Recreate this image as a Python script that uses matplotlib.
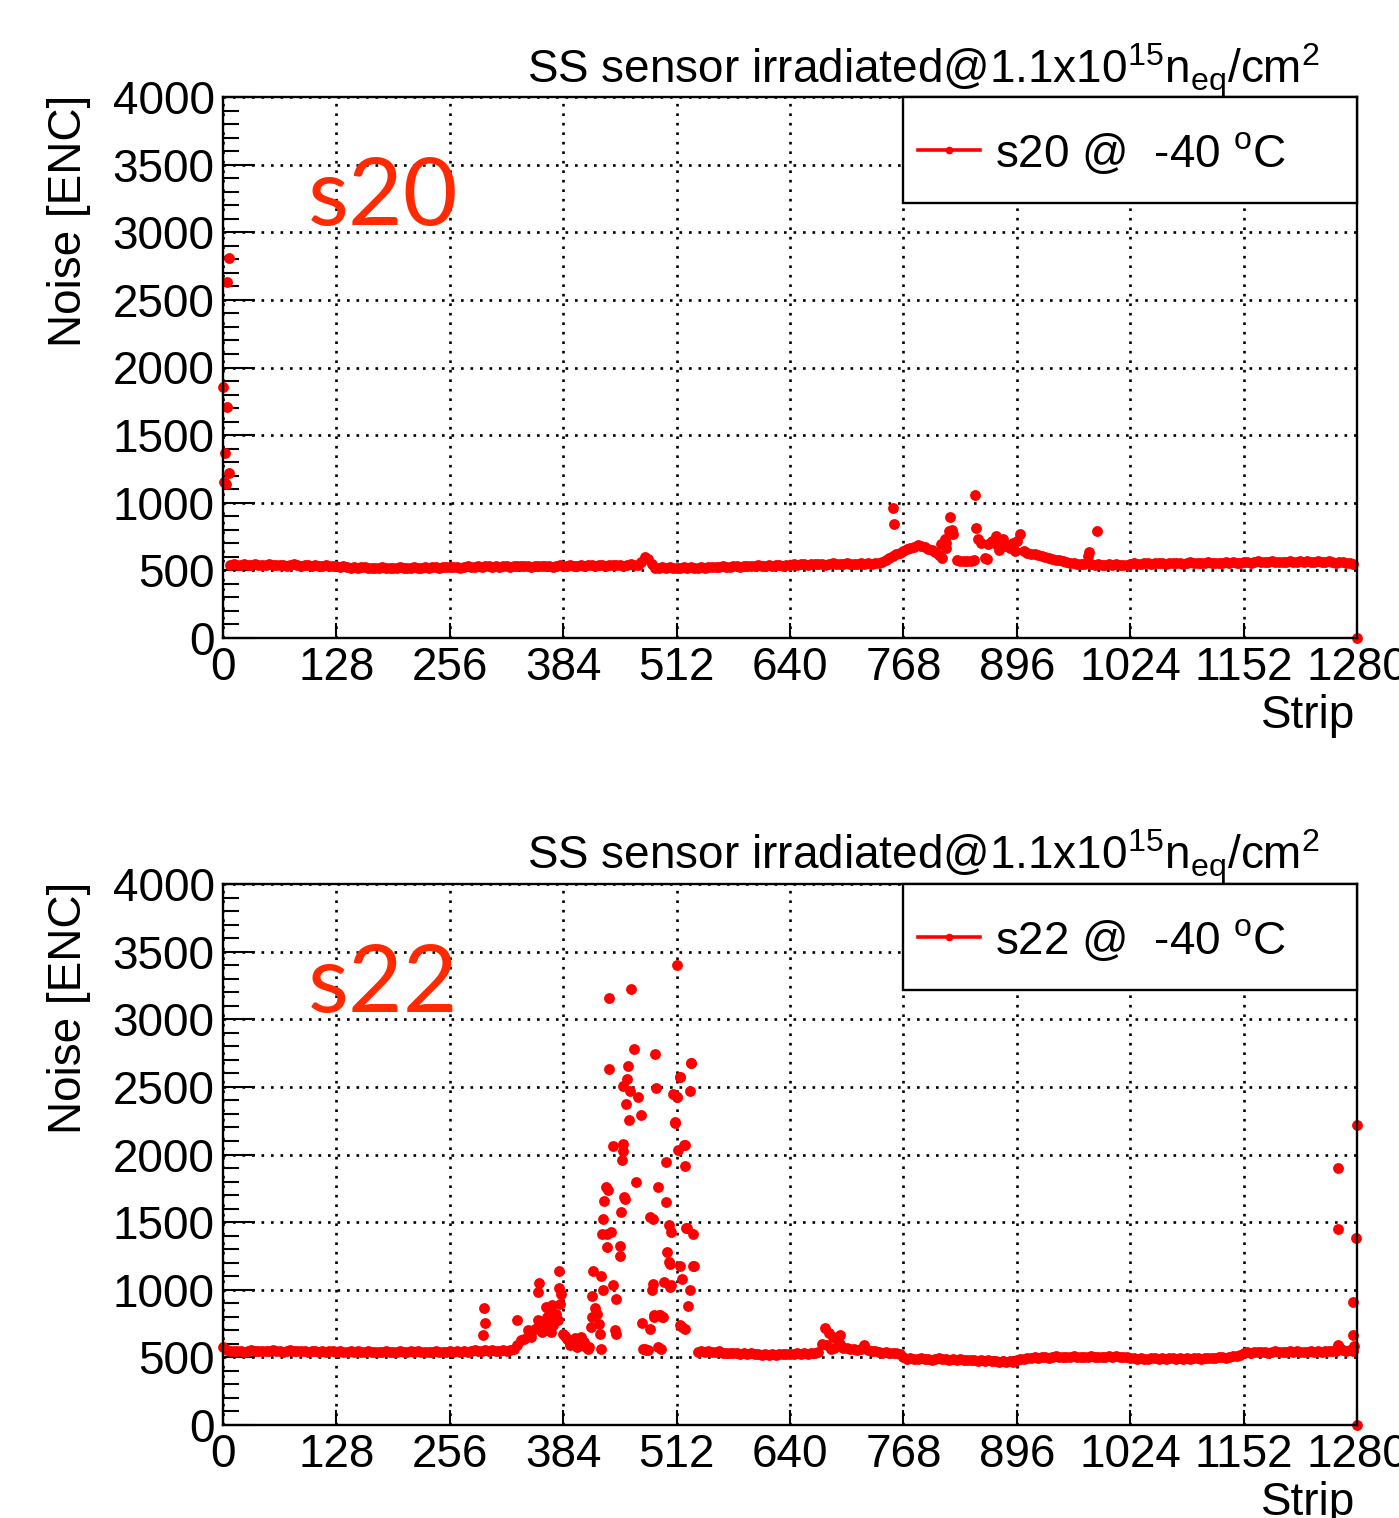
import numpy as np
import matplotlib
matplotlib.use("Agg")
import matplotlib.pyplot as plt
from matplotlib.patches import Rectangle
from matplotlib.lines import Line2D

plt.rcParams['font.family'] = ['Liberation Sans', 'DejaVu Sans']
plt.rcParams['mathtext.fontset'] = 'custom'
plt.rcParams['mathtext.rm'] = 'Liberation Sans'
plt.rcParams['mathtext.it'] = 'Liberation Sans:italic'
plt.rcParams['mathtext.bf'] = 'Liberation Sans:bold'

# ---------------- data ----------------
nan = np.nan
strip_step = 4
xticks = [0, 128, 256, 384, 512, 640, 768, 896, 1024, 1152, 1280]
yticks = [0, 500, 1000, 1500, 2000, 2500, 3000, 3500, 4000]

# s20: noise every 4 strips (strips 0..1276)
s20_base = [
    nan, nan, 541, 545, 539, 543, 547, 540, 538, 544, 541, 537, 543, 546, 540, 538,
    542, 539, 536, 541, 544, 538, 535, 540, 537, 534, 539, 536, 533, 537, 534, 531,
    529, 526, 530, 524, 521, 525, 519, 522, 526, 518, 521, 516, 520, 524, 517, 521,
    515, 519, 523, 517, 520, 518, 522, 516, 521, 524, 519, 522, 526, 520, 524, 527,
    523, 528, 525, 521, 527, 530, 524, 528, 532, 526, 529, 533, 527, 531, 528, 534,
    530, 526, 532, 535, 529, 533, 530, 527, 533, 536, 530, 534, 531, 528, 534, 537,
    531, 535, 538, 532, 536, 540, 534, 537, 541, 535, 539, 542, 536, 540, 537, 543,
    539, 535, 541, 544, 538, 542, 560, 598, 585, 548, 516, 520, 524, 518, 522, 519,
    521, 517, 523, 519, 525, 521, 518, 524, 520, 526, 522, 528, 524, 530, 526, 523,
    529, 532, 527, 531, 535, 529, 533, 537, 531, 535, 538, 533, 537, 540, 535, 539,
    542, 546, 541, 548, 544, 540, 547, 550, 545, 549, 543, 547, 551, 545, 549, 546,
    552, 548, 544, 550, 553, 547, 551, 548, 554, 556, 560, 575, 590, 605, 618, 630,
    645, 655, 665, 675, 685, 680, 670, 660, 650, 635, 615, 595, 700, 790, 770, 575,
    568, 572, 566, 570, 580, 730, 706, 595, 694, 719, 756, 650, 731, 690, 669, 706,
    719, 769, 640, 625, 619, 622, 615, 608, 600, 590, 584, 580, 578, 572, 565, 558,
    552, 548, 545, 549, 606, 545, 541, 546, 543, 539, 544, 540, 546, 542, 538, 543,
    548, 553, 550, 546, 552, 556, 549, 553, 557, 551, 548, 554, 558, 552, 556, 550,
    554, 559, 553, 557, 551, 555, 560, 554, 558, 552, 556, 561, 555, 559, 553, 557,
    560, 564, 558, 562, 566, 560, 564, 561, 567, 563, 559, 565, 562, 568, 564, 560,
    566, 562, 569, 565, 561, 567, 563, 560, 566, 562, 558, 564, 560, 556, 553, 550,
]
s20_extra_strip = [7, 5, 0, 4, 2, 7, 1, 3, 756, 757, 849, 821, 816, 811, 815, 823,
                   850, 862, 894, 883, 873, 978, 986, 1280]
s20_extra_noise = [2807, 2630, 1853, 1711, 1365, 1218, 1156, 1139, 960, 843, 1060, 898, 669, 694, 731, 798,
                   813, 582, 644, 682, 694, 637, 789, 0]

# s22: noise every 4 strips (strips 0..1276)
s22_base = [
    576, 552, 548, 545, 550, 546, 543, 549, 552, 547, 544, 550, 546, 548, 552, 545,
    549, 543, 547, 551, 546, 544, 549, 545, 542, 548, 544, 541, 546, 543, 547, 544,
    541, 545, 538, 543, 547, 540, 544, 538, 542, 546, 539, 543, 537, 541, 545, 539,
    543, 540, 544, 538, 542, 546, 540, 544, 539, 543, 537, 541, 545, 539, 542, 540,
    544, 540, 546, 542, 548, 543, 547, 551, 545, 549, 553, 548, 552, 546, 550, 555,
    549, 553, 560, 589, 626, 638, 699, 650, 710, 778, 687, 699, 852, 736, 822, 896,
    675, 638, 589, 626, 576, 650, 601, 564, 798, 867, 749, 1413, 1762, 3160, 2065, 933,
    1327, 2077, 2557, 3221, 2779, 2422, 2294, 564, 552, 995, 2742, 817, 798, 1647, 1192, 2446,
    2422, 2574, 2070, 1455, 2680, 1172, 539, 545, 541, 547, 543, 538, 544, 536, 531, 535,
    529, 533, 527, 531, 525, 529, 523, 527, 521, 525, 519, 523, 520, 526, 522, 527,
    528, 524, 530, 526, 532, 527, 531, 535, 540, 600, 715, 678, 653, 641, 665, 572,
    566, 560, 565, 556, 560, 592, 552, 548, 544, 540, 536, 540, 533, 530, 534, 528,
    500, 488, 492, 485, 490, 494, 487, 491, 484, 489, 493, 486, 490, 483, 487, 481,
    485, 479, 483, 477, 481, 475, 479, 473, 477, 471, 475, 469, 473, 467, 471, 468,
    480, 486, 490, 494, 498, 502, 497, 501, 505, 499, 503, 507, 501, 505, 500, 504,
    508, 502, 506, 500, 504, 508, 502, 506, 501, 505, 509, 503, 507, 501, 505, 500,
    498, 494, 490, 495, 491, 487, 492, 496, 490, 494, 489, 493, 497, 491, 495, 489,
    493, 488, 492, 496, 490, 494, 498, 492, 496, 500, 504, 499, 503, 507, 511, 515,
    535, 540, 536, 541, 537, 543, 539, 535, 541, 545, 539, 543, 538, 544, 540, 546,
    541, 537, 543, 547, 541, 545, 540, 546, 550, 544, 548, 575, 553, 547, 558, 545,
]
s22_extra_strip = [295, 296, 294, 332, 357, 356, 379, 379, 381, 365, 371, 366, 375, 346, 354, 362, 370, 378,
                   386, 390, 397, 403, 407, 410, 413, 418, 427, 429, 417, 422, 415, 425, 427,
                   435, 430, 429, 433, 438, 433, 436, 440, 442, 444,
                   448, 449, 451, 450, 451, 455, 457, 459, 458, 453, 454, 466,
                   474, 478, 473, 482, 486, 487, 493, 497, 491, 494, 485, 482, 485, 489, 491, 500,
                   503, 506, 501, 503, 498, 505, 506,
                   510, 510, 512, 516, 514, 521, 521, 512, 528, 527, 523, 531, 516, 531, 518, 527,
                   525, 516, 518, 522,
                   682, 686, 690, 697,
                   1259, 1258, 1279.5, 1278.5, 1275, 1276, 1277, 1259, 1280]
s22_extra_noise = [867, 756, 667, 773, 1049, 982, 1135, 1012, 970, 872, 884, 798, 798, 660, 720, 760, 690, 780,
                   660, 620, 640, 590, 610, 580, 580, 1135, 1105, 995, 955, 822, 724, 675, 564,
                   1738, 1654, 1524, 1413, 1425, 1314, 2631, 1032, 699, 675,
                   1253, 1573, 2028, 1959, 2508, 2373, 2656, 2471, 2254, 1684, 1671, 1794,
                   564, 552, 754, 712, 798, 810, 817, 798, 576, 564, 1044, 1536, 1524, 2488, 1757, 1942,
                   1482, 1425, 1278, 1204, 1056, 1024, 1032,
                   2242, 2230, 2422, 2574, 2033, 2070, 1912, 3401, 2680, 2466, 1455, 1413, 1172, 1172, 1081, 995,
                   877, 736, 724, 712,
                   592, 560, 570, 600,
                   1898, 1449, 2218, 1380, 907, 665, 587, 590, 0]

panels = [
    dict(name="s20", base=s20_base, xs=s20_extra_strip, ys=s20_extra_noise,
         legend="s20 @  -40 $^{\\mathrm{o}}$C"),
    dict(name="s22", base=s22_base, xs=s22_extra_strip, ys=s22_extra_noise,
         legend="s22 @  -40 $^{\\mathrm{o}}$C"),
]
title = "SS sensor irradiated@1.1x10$^{15}$n$_{\\mathrm{eq}}$/cm$^{2}$"

# ---------------- figure ----------------
W, H = 1399, 1518
fig = plt.figure(figsize=(W / 100, H / 100), dpi=100)

def fx(px):
    return px / W

def fy(py):
    return 1 - py / H

red = '#ff0000'
fs = 33
ms = 7.8
offsets = [0, 787]

for p, off in zip(panels, offsets):
    top, bot = 97 + off, 638 + off
    ax = fig.add_axes([fx(223), fy(bot), fx(1357) - fx(223), (bot - top) / H])
    strips = np.arange(0, 1280, strip_step)
    base = np.array(p['base'], dtype=float)
    ax.plot(strips, base, 'o', color=red, ms=ms, mec='none', zorder=3, clip_on=False)
    ax.plot(p['xs'], p['ys'], 'o', color=red, ms=ms, mec='none', zorder=3, clip_on=False)

    ax.set_xlim(0, 1280)
    ax.set_ylim(0, 4000)
    ax.set_xticks(xticks)
    ax.set_xticklabels([str(t) for t in xticks])
    ax.set_yticks(yticks)
    ax.set_yticklabels([str(t) for t in yticks])
    ax.set_yticks(np.arange(0, 4001, 100), minor=True)
    ax.tick_params(axis='x', which='major', direction='in', length=10.8, width=1.5,
                   labelsize=fs, pad=6)
    ax.tick_params(axis='y', which='major', direction='in', length=23, width=1.5,
                   labelsize=fs, pad=6)
    ax.tick_params(axis='y', which='minor', direction='in', length=11.5, width=1.5)
    ax.tick_params(top=False, right=False)
    for s in ax.spines.values():
        s.set_linewidth(1.7)
        s.set_zorder(4)
    ax.grid(True, which='major', color='black', linestyle=(0, (1, 2.6)), linewidth=1.9, zorder=1)
    ax.set_axisbelow(True)

    # legend box
    ax.add_patch(Rectangle((0.5996, 0.804), 0.4004, 0.196, transform=ax.transAxes,
                           facecolor='white', edgecolor='black', linewidth=1.7, zorder=5,
                           clip_on=False))
    ax.add_line(Line2D([0.6129, 0.6676], [0.902, 0.902], transform=ax.transAxes,
                       color=red, lw=2.6, marker=None, zorder=6))
    ax.add_line(Line2D([0.640], [0.902], transform=ax.transAxes, color=red,
                       marker='o', ms=5.5, mec='none', zorder=7))
    ax.text(0.6808, 0.8706, p['legend'], transform=ax.transAxes, fontsize=fs,
            ha='left', va='baseline', zorder=7)

    # big sample label
    ax.text(0.075, 0.763, p['name'], transform=ax.transAxes, fontsize=68,
            family=['Lato', 'DejaVu Sans'], color='#ff2a00', ha='left', va='baseline', zorder=6)

    # titles and axis titles
    fig.text(fx(527), fy(83 + off), title, fontsize=33, ha='left', va='baseline')
    fig.text(fx(69), fy(95 + off), "Noise [ENC]", fontsize=fs, rotation=90,
             ha='center', va='top')
    fig.text(fx(1355), fy(694 + off), "Strip", fontsize=fs, ha='right', va='top')

fig.savefig("out.png", dpi=100)
